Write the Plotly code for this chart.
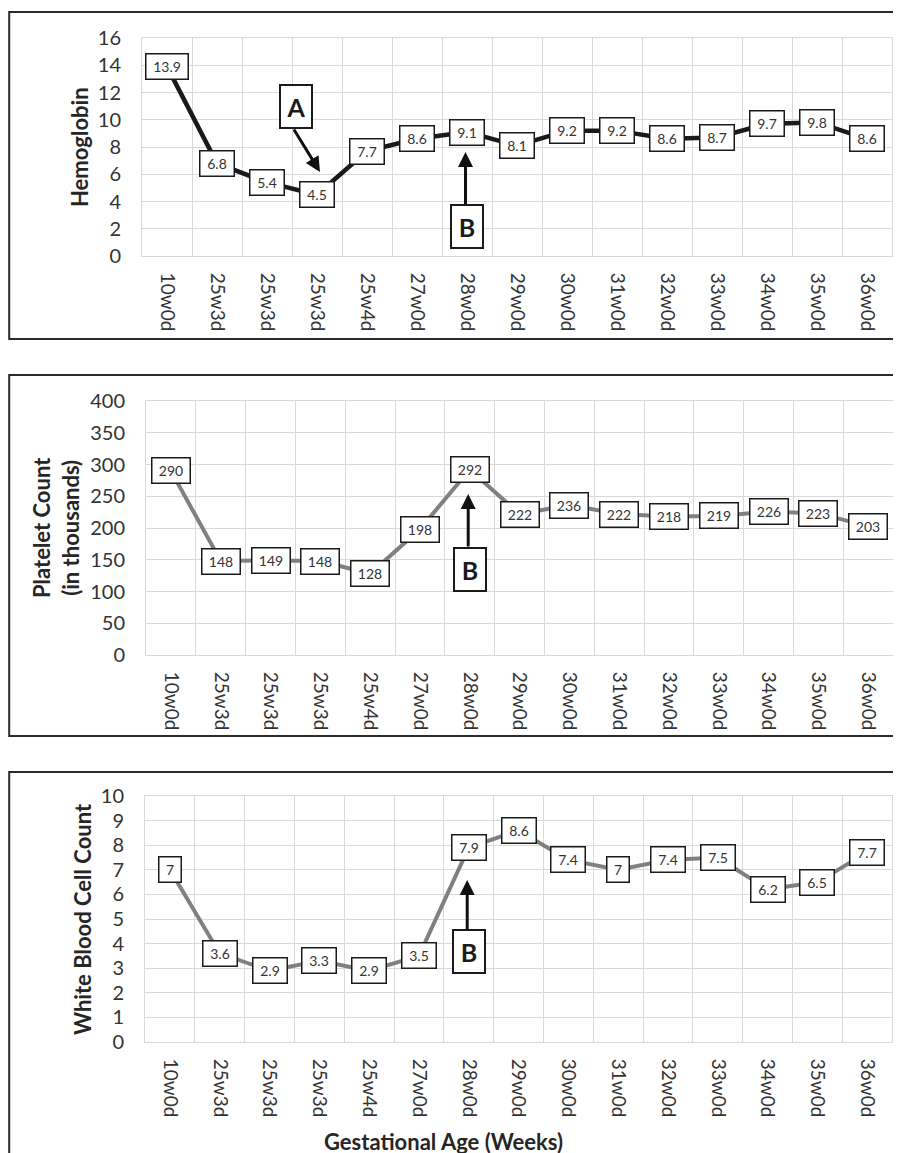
import plotly.graph_objects as go

weeks = ["10w0d", "25w3d", "25w3d", "25w3d", "25w4d", "27w0d", "28w0d", "29w0d",
         "30w0d", "31w0d", "32w0d", "33w0d", "34w0d", "35w0d", "36w0d"]
hemoglobin = [13.9, 6.8, 5.4, 4.5, 7.7, 8.6, 9.1, 8.1, 9.2, 9.2, 8.6, 8.7, 9.7, 9.8, 8.6]
platelets = [290, 148, 149, 148, 128, 198, 292, 222, 236, 222, 218, 219, 226, 223, 203]
wbc = [7, 3.6, 2.9, 3.3, 2.9, 3.5, 7.9, 8.6, 7.4, 7, 7.4, 7.5, 6.2, 6.5, 7.7]
y_titles = ["Hemoglobin", "Platelet Count<br>(in thousands)", "White Blood Cell Count"]
x_title = "Gestational Age (Weeks)"

W, H = 901, 1153
OFF = 8  # page body margin: figure origin sits 8px in from the window corner
FONT = "Lato, 'Open Sans', sans-serif"
TXT = "#333333"
GRID = "#d9d9d9"


def fx(p):
    return (p - OFF) / W


def fy(p):
    return 1 - (p - OFF) / H


idx = list(range(len(weeks)))

fig = go.Figure()

panels = [
    dict(vals=hemoglobin, color="#1a1a1a", width=4.5, rng=[0, 16], dtick=2,
         px=(142, 892), py=(38, 256), border=(12, 339), title_x=79),
    dict(vals=platelets, color="#808080", width=4, rng=[0, 400], dtick=50,
         px=(146, 893), py=(401, 655), border=(375, 736), title_x=56),
    dict(vals=wbc, color="#808080", width=4, rng=[0, 10], dtick=1,
         px=(145, 892), py=(796, 1042), border=(772, 1175), title_x=82),
]

annotations = []
shapes = []


def label_width(s):
    d = sum(c.isdigit() for c in s)
    p = s.count(".")
    return 8 * d + 4 * p + 7


for i, p in enumerate(panels):
    n = "" if i == 0 else str(i + 1)
    xa, ya = "x" + n, "y" + n
    fig.add_trace(go.Scatter(
        x=idx, y=p["vals"], mode="lines", xaxis=xa, yaxis=ya,
        line=dict(color=p["color"], width=p["width"]), hoverinfo="skip", showlegend=False))
    xd = [fx(p["px"][0]), fx(p["px"][1])]
    yd = [fy(p["py"][1]), fy(p["py"][0])]
    fig.update_layout(**{
        "xaxis" + n: dict(
            domain=xd, anchor=ya, range=[-0.5, len(weeks) - 0.5], automargin=False,
            tickmode="array", tickvals=idx, ticktext=weeks, tickangle=90,
            tickfont=dict(family=FONT, size=19, color=TXT),
            ticks="outside", ticklen=12, tickcolor="rgba(0,0,0,0)",
            showgrid=False, zeroline=False,
            showline=True, linecolor=GRID, linewidth=1, mirror=True,
            minor=dict(tickmode="array", tickvals=[k - 0.5 for k in range(len(weeks) + 1)],
                       showgrid=True, gridcolor=GRID, gridwidth=1, ticks=""),
            fixedrange=True),
        "yaxis" + n: dict(
            domain=yd, anchor=xa, range=p["rng"], dtick=p["dtick"], automargin=False,
            tickfont=dict(family=FONT, size=20, color=TXT),
            ticks="outside", ticklen=16, tickcolor="rgba(0,0,0,0)",
            showgrid=True, gridcolor=GRID, gridwidth=1,
            zeroline=False, showline=True, linecolor=GRID, linewidth=1, mirror=True,
            fixedrange=True),
    })
    # data labels
    for k, v in zip(idx, p["vals"]):
        s = f"{v:g}"
        annotations.append(dict(
            x=k, y=v, xref=xa, yref=ya, text=s, showarrow=False,
            font=dict(family=FONT, size=14, color=TXT),
            bgcolor="white", bordercolor="#1a1a1a", borderwidth=1.5, borderpad=3,
            width=label_width(s), height=18, align="center", valign="middle"))
    # y title
    annotations.append(dict(
        x=fx(p["title_x"]), y=(yd[0] + yd[1]) / 2, xref="paper", yref="paper",
        text=y_titles[i], textangle=-90, showarrow=False,
        font=dict(family=FONT, size=22, color="#262626", weight="bold"),
        xanchor="center", yanchor="middle"))
    # panel frame (open on the right)
    shapes.append(dict(type="rect", xref="paper", yref="paper",
                       x0=1.2 / W, x1=1.02, y0=fy(p["border"][1]), y1=fy(p["border"][0]),
                       line=dict(color="#2b2b2b", width=2), fillcolor="rgba(0,0,0,0)", layer="below"))

# Marker callouts A and B
box_style = dict(font=dict(family=FONT, size=25, color="#1a1a1a", weight="bold"),
                 bgcolor="white", bordercolor="#1a1a1a", borderwidth=2, borderpad=4,
                 width=22, height=33, showarrow=False)
arrow_style = dict(text="", showarrow=True, arrowhead=2, arrowsize=1, arrowwidth=3,
                   arrowcolor="#111111", axref="pixel", ayref="pixel")

# A (hemoglobin panel)
annotations.append(dict(x=2.57, y=11.0, xref="x", yref="y", text="A", **box_style))
annotations.append(dict(x=3.06, y=6.17, xref="x", yref="y", ax=-27, ay=-44, **arrow_style))

# B in each panel, pointing at 28w0d
b_pos = [(2.17, 7.63, 54), (135.4, 253.5, 54), (3.66, 6.59, 51)]
for i, (yb, ytip, off) in enumerate(b_pos):
    n = "" if i == 0 else str(i + 1)
    annotations.append(dict(x=6, y=yb, xref="x" + n, yref="y" + n, text="B", **box_style))
    annotations.append(dict(x=6 - 0.03, y=ytip, xref="x" + n, yref="y" + n,
                            ax=0, ay=off, **arrow_style))

annotations.append(dict(x=fx(443), y=fy(1141), xref="paper", yref="paper",
                        text=x_title, showarrow=False,
                        font=dict(family=FONT, size=22, color="#262626", weight="bold"),
                        xanchor="center", yanchor="middle"))

fig.update_layout(
    width=W, height=H, margin=dict(l=0, r=0, t=0, b=0, autoexpand=False),
    paper_bgcolor="white", plot_bgcolor="white",
    annotations=annotations, shapes=shapes, showlegend=False)

fig.write_html("out.html")
